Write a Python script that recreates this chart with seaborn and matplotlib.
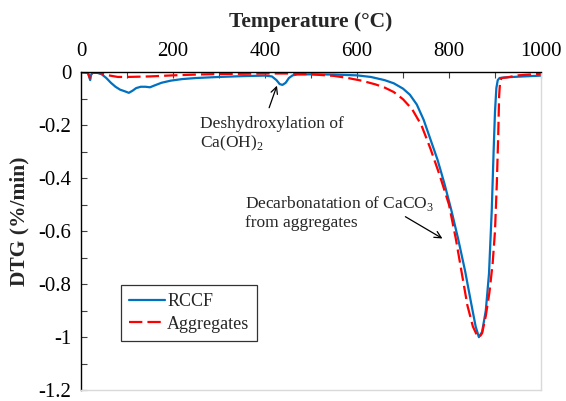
import numpy as np
import pandas as pd
import matplotlib
matplotlib.use("Agg")
import matplotlib.pyplot as plt
import seaborn as sns

# DTG curves (derivative of mass loss) versus temperature
rccf_temp = [0, 15, 20, 22, 25, 35, 45, 55, 65, 75, 85, 95, 104, 112, 120, 130, 140,
             150, 160, 175, 195, 220, 250, 300, 350, 400, 415, 425, 432, 438, 445, 452,
             460, 470, 500, 550, 600, 630, 660, 680, 700, 715, 730, 745, 760, 775, 790,
             805, 820, 835, 848, 858, 865, 872, 880, 887, 893, 897, 900, 903, 906, 910,
             920, 950, 1000]
rccf_dtg = [0, -0.002, -0.03, -0.01, -0.002, -0.002, -0.008, -0.022, -0.040, -0.055,
            -0.066, -0.072, -0.078, -0.070, -0.060, -0.055, -0.055, -0.057, -0.050,
            -0.040, -0.032, -0.026, -0.022, -0.018, -0.015, -0.013, -0.016, -0.030,
            -0.045, -0.048, -0.040, -0.022, -0.012, -0.009, -0.008, -0.009, -0.012,
            -0.018, -0.030, -0.042, -0.062, -0.085, -0.122, -0.18, -0.255, -0.33, -0.42,
            -0.52, -0.63, -0.75, -0.87, -0.96, -1.0, -0.98, -0.90, -0.76, -0.52, -0.30,
            -0.15, -0.06, -0.03, -0.022, -0.02, -0.017, -0.013]

agg_temp = [0, 15, 20, 22, 25, 40, 60, 80, 100, 150, 200, 250, 300, 350, 400, 450, 500,
            550, 580, 610, 640, 660, 680, 700, 720, 740, 760, 780, 800, 815, 828, 840,
            852, 860, 866, 872, 880, 888, 895, 900, 904, 907, 909, 911, 914, 925, 950,
            1000]
agg_dtg = [0, -0.002, -0.025, -0.008, -0.002, -0.003, -0.012, -0.018, -0.018, -0.016,
           -0.012, -0.009, -0.007, -0.006, -0.005, -0.005, -0.008, -0.014, -0.022,
           -0.032, -0.046, -0.058, -0.075, -0.102, -0.14, -0.20, -0.29, -0.39, -0.50,
           -0.63, -0.76, -0.88, -0.96, -0.99, -1.0, -0.985, -0.92, -0.83, -0.72, -0.60,
           -0.42, -0.24, -0.09, -0.04, -0.022, -0.02, -0.012, -0.006]

series_names = ["RCCF", "Aggregates"]
series_colors = {"RCCF": "#0070C0", "Aggregates": "#FF0000"}

df = pd.concat([
    pd.DataFrame({"T": rccf_temp, "DTG": rccf_dtg, "Sample": "RCCF"}),
    pd.DataFrame({"T": agg_temp, "DTG": agg_dtg, "Sample": "Aggregates"}),
], ignore_index=True)

sns.set_theme(style="white")
plt.rcParams["font.family"] = ["Liberation Serif", "DejaVu Serif"]
plt.rcParams["mathtext.fontset"] = "custom"
plt.rcParams["mathtext.rm"] = "Liberation Serif"
plt.rcParams["axes.unicode_minus"] = False

fig = plt.figure(figsize=(5.66, 4.01), dpi=100)
ax = fig.add_axes([0.1431, 0.027, 0.8127, 0.793])

sns.lineplot(data=df, x="T", y="DTG", hue="Sample", style="Sample",
             hue_order=series_names, style_order=series_names,
             palette=series_colors,
             dashes={"RCCF": "", "Aggregates": (6, 2.3)},
             sort=False, estimator=None, linewidth=1.6, ax=ax, legend=False)

ax.set_xlim(0, 1000)
ax.set_ylim(-1.2, 0)

# x axis drawn along the top (DTG = 0)
ax.xaxis.tick_top()
ax.xaxis.set_label_position("top")
ax.set_xticks(np.arange(0, 1001, 200))
ax.set_xticks(np.arange(0, 1001, 100), minor=True)
ax.set_yticks(np.arange(-1.2, 0.01, 0.2))
ax.set_yticks(np.arange(-1.2, 0.01, 0.1), minor=True)
ax.set_yticklabels(["-1.2", "-1", "-0.8", "-0.6", "-0.4", "-0.2", "0"])
ax.tick_params(axis="both", which="both", direction="in", length=4, width=0.8,
               color="#404040", labelsize=15, labelcolor="black")
ax.tick_params(axis="x", which="both", top=True, bottom=False, pad=8)
ax.tick_params(axis="y", which="both", left=True, right=False, pad=7)
for lbl in ax.get_yticklabels():
    lbl.set_verticalalignment("center_baseline")

ax.set_xlabel("Temperature (°C)", fontsize=15.5, fontweight="bold", labelpad=11)
ax.set_ylabel("DTG (%/min)", fontsize=15.5, fontweight="bold")
ax.yaxis.set_label_coords(-0.113, 0.53)

for side in ["top", "left"]:
    ax.spines[side].set_color("black")
    ax.spines[side].set_linewidth(1.0)
for side in ["right", "bottom"]:
    ax.spines[side].set_color("#d9d9d9")
    ax.spines[side].set_linewidth(1.0)

# annotations
ax.annotate("", xy=(428, -0.041), xytext=(407, -0.144),
            arrowprops=dict(arrowstyle="->", color="black", lw=0.9))
ax.text(259, -0.165, "Deshydroxylation of\nCa(OH)$_2$", fontsize=12.5,
        va="top", ha="left", linespacing=1.15)

ax.annotate("", xy=(791, -0.633), xytext=(700, -0.54),
            arrowprops=dict(arrowstyle="->", color="black", lw=0.9))
ax.text(356, -0.46, "Decarbonatation of CaCO$_3$\nfrom aggregates", fontsize=12.5,
        va="top", ha="left", linespacing=1.15)

# legend
handles = [
    plt.Line2D([], [], color=series_colors["RCCF"], lw=1.6),
    plt.Line2D([], [], color=series_colors["Aggregates"], lw=1.6, dashes=(6, 2.3)),
]
leg = ax.legend(handles, series_names, loc="upper left",
                bbox_to_anchor=(0.087, 0.33), fontsize=13, frameon=True,
                fancybox=False, edgecolor="black", handlelength=2.0,
                handletextpad=0.1, borderpad=0.45, labelspacing=0.3,
                borderaxespad=0)
leg.get_frame().set_linewidth(0.9)

fig.savefig("out.png", dpi=100)
